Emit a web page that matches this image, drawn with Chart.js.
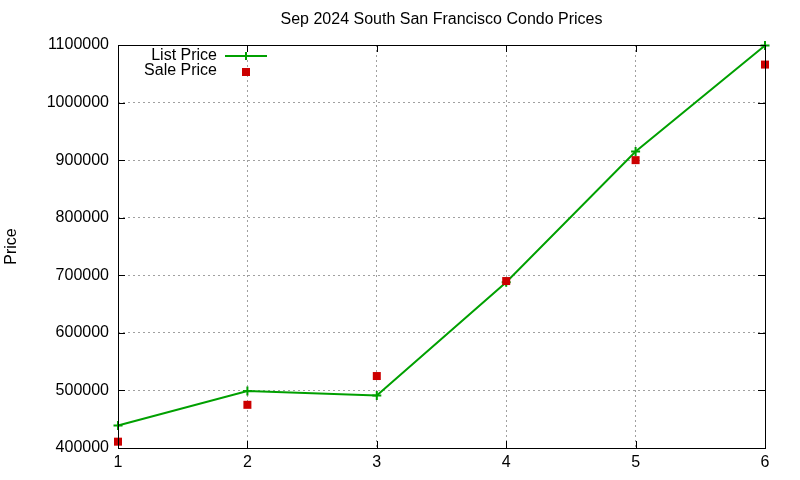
<!DOCTYPE html>
<html>
<head>
<meta charset="utf-8">
<script src="https://cdn.jsdelivr.net/npm/chart.js@4"></script>
<style>
html,body{margin:0;padding:0;background:#fff;}
#wrap{width:800px;height:480px;}
</style>
</head>
<body>
<div id="wrap"><canvas id="c" width="800" height="480"></canvas></div>
<script>
const chartTitle = "Sep 2024 South San Francisco Condo Prices";
const yAxisTitle = "Price";
const seriesNames = ["List Price", "Sale Price"];
const listX = [1, 2, 3, 4, 5, 6];
const listPrices = [439000, 499000, 491000, 688000, 915000, 1099000];
const saleX = [1, 2, 3, 4, 5, 6];
const salePrices = [411000, 475000, 525000, 690000, 900000, 1066000];
const xTicks = [1, 2, 3, 4, 5, 6];
const yMin = 400000, yMax = 1100000, yStep = 100000;

const GREEN = "#00a000";
const RED = "#cc0000";
const FONT = "'Liberation Sans', Arial, sans-serif";

const listData = listX.map((x, i) => ({x: x, y: listPrices[i]}));
const saleData = saleX.map((x, i) => ({x: x, y: salePrices[i]}));

const frame = {
  id: "frame",
  afterDatasetsDraw(chart) {
    const {ctx, chartArea: a, scales} = chart;
    ctx.save();
    // title centred over the plot area
    ctx.font = "16px " + FONT;
    ctx.fillStyle = "#000";
    ctx.textAlign = "center";
    ctx.textBaseline = "middle";
    ctx.fillText(chartTitle, (a.left + a.right) / 2, 20);
    // border and mirrored inward ticks
    ctx.strokeStyle = "#000";
    ctx.lineWidth = 1;
    ctx.strokeRect(Math.round(a.left) + 0.5, Math.round(a.top) + 0.5,
                   Math.round(a.right - a.left), Math.round(a.bottom - a.top));
    ctx.beginPath();
    scales.y.ticks.forEach(t => {
      const py = Math.round(scales.y.getPixelForValue(t.value)) + 0.5;
      ctx.moveTo(a.left, py); ctx.lineTo(a.left + 7, py);
      ctx.moveTo(a.right, py); ctx.lineTo(a.right - 7, py);
    });
    scales.x.ticks.forEach(t => {
      const px = Math.round(scales.x.getPixelForValue(t.value)) + 0.5;
      ctx.moveTo(px, a.bottom); ctx.lineTo(px, a.bottom - 7);
      ctx.moveTo(px, a.top); ctx.lineTo(px, a.top + 7);
    });
    ctx.stroke();
    // legend
    ctx.font = "16px " + FONT;
    ctx.fillStyle = "#000";
    ctx.textAlign = "right";
    ctx.textBaseline = "middle";
    const lx = a.left + 99;
    ctx.fillText(seriesNames[0], lx, 56);
    ctx.fillText(seriesNames[1], lx, 71);
    ctx.strokeStyle = GREEN;
    ctx.lineWidth = 2;
    ctx.beginPath();
    ctx.moveTo(lx + 8, 56); ctx.lineTo(lx + 50, 56);
    ctx.moveTo(lx + 29, 52); ctx.lineTo(lx + 29, 60);
    ctx.stroke();
    ctx.fillStyle = RED;
    ctx.fillRect(lx + 25, 68, 8, 8);
    ctx.restore();
  }
};

new Chart(document.getElementById("c"), {
  type: "scatter",
  data: {
    datasets: [
      {
        label: seriesNames[0],
        data: listData,
        showLine: true,
        borderColor: GREEN,
        backgroundColor: GREEN,
        borderWidth: 2,
        pointStyle: "cross",
        pointRadius: 4.5,
        pointBorderWidth: 2,
        pointBorderColor: GREEN,
        tension: 0,
        clip: false,
        order: 2
      },
      {
        label: seriesNames[1],
        data: saleData,
        showLine: false,
        backgroundColor: RED,
        borderColor: RED,
        pointStyle: "rect",
        pointRadius: 5.66,
        pointBorderWidth: 0,
        clip: false,
        order: 1
      }
    ]
  },
  plugins: [frame],
  options: {
    responsive: false,
    animation: false,
    devicePixelRatio: 1,
    layout: {padding: {left: 0, right: 35, top: 45, bottom: 0}},
    plugins: {
      legend: {display: false},
      tooltip: {enabled: false},
      title: {display: false}
    },
    scales: {
      x: {
        type: "linear",
        min: 1, max: 6,
        afterBuildTicks(scale) { scale.ticks = xTicks.map(v => ({value: v})); },
        afterFit(scale) { scale.height = 32; },
        ticks: {color: "#000", font: {family: FONT, size: 16}, padding: 5, stepSize: 1},
        grid: {color: "#a0a0a0", drawTicks: false},
        border: {display: false, dash: [2, 3]}
      },
      y: {
        min: yMin, max: yMax,
        afterFit(scale) { scale.width = 118; },
        ticks: {stepSize: yStep, color: "#000", font: {family: FONT, size: 16}, padding: 9,
                callback: v => String(v)},
        grid: {color: "#a0a0a0", drawTicks: false},
        border: {display: false, dash: [2, 3]},
        title: {display: true, text: yAxisTitle, color: "#000",
                font: {family: FONT, size: 16}, padding: {top: 2, bottom: 0}}
      }
    }
  }
});
</script>
</body>
</html>
